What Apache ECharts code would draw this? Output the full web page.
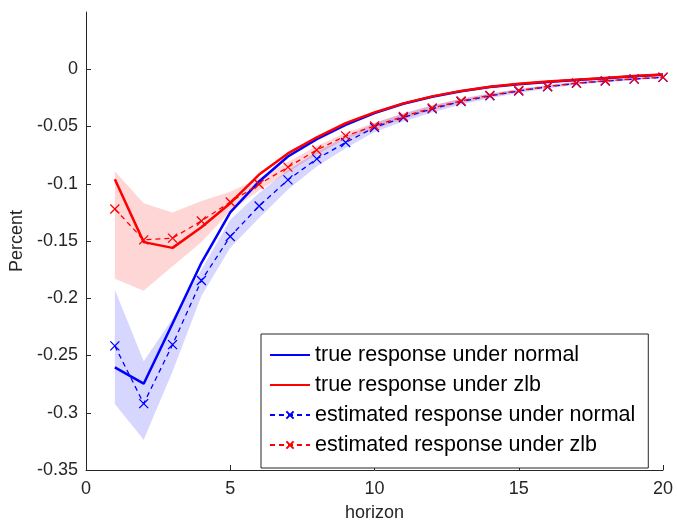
<!DOCTYPE html>
<html>
<head>
<meta charset="utf-8">
<script src="https://cdn.jsdelivr.net/npm/echarts@6/dist/echarts.min.js"></script>
<style>html,body{margin:0;padding:0;background:#fff;}#c{width:677px;height:527px;}</style>
</head>
<body>
<div id="c"></div>
<script>
var horizon = [1,2,3,4,5,6,7,8,9,10,11,12,13,14,15,16,17,18,19,20];
var trueNormal = [-0.2604,-0.2746,-0.222,-0.169,-0.125,-0.098,-0.0762,-0.061,-0.0485,-0.0382,-0.0301,-0.0240,-0.0192,-0.0155,-0.0130,-0.0111,-0.0094,-0.0078,-0.0062,-0.0047];
var trueZlb = [-0.096,-0.151,-0.156,-0.138,-0.117,-0.092,-0.0735,-0.0594,-0.047,-0.0377,-0.0298,-0.0237,-0.0189,-0.0152,-0.0127,-0.0108,-0.0092,-0.0076,-0.0060,-0.0045];
var estNormal = [-0.2416,-0.292,-0.2405,-0.1845,-0.146,-0.1195,-0.0966,-0.0783,-0.064,-0.0508,-0.0421,-0.0346,-0.0282,-0.0232,-0.0190,-0.0153,-0.0123,-0.0103,-0.0086,-0.0071];
var estZlb = [-0.122,-0.149,-0.1475,-0.1325,-0.116,-0.1004,-0.0855,-0.0705,-0.0582,-0.0496,-0.0412,-0.0338,-0.0277,-0.0228,-0.0186,-0.0150,-0.0121,-0.0101,-0.0084,-0.0069];
var bandNormalHi = [-0.1926,-0.255,-0.218,-0.175,-0.1315,-0.108,-0.088,-0.072,-0.059,-0.047,-0.0385,-0.0315,-0.0256,-0.0211,-0.0172,-0.0138,-0.0110,-0.0092,-0.0077,-0.0063];
var bandNormalLo = [-0.2924,-0.3235,-0.264,-0.198,-0.156,-0.130,-0.105,-0.085,-0.069,-0.0548,-0.0457,-0.0377,-0.0308,-0.0253,-0.0208,-0.0168,-0.0136,-0.0114,-0.0095,-0.0079];
var bandZlbHi = [-0.089,-0.117,-0.125,-0.115,-0.107,-0.095,-0.081,-0.067,-0.0555,-0.0468,-0.0388,-0.0317,-0.0260,-0.0214,-0.0174,-0.0140,-0.0113,-0.0094,-0.0078,-0.0064];
var bandZlbLo = [-0.183,-0.1935,-0.172,-0.151,-0.124,-0.106,-0.090,-0.0745,-0.061,-0.0524,-0.0436,-0.0359,-0.0294,-0.0242,-0.0198,-0.0160,-0.0129,-0.0108,-0.0090,-0.0074];
var xTicks = [0,5,10,15,20];
var yTicks = [-0.35,-0.3,-0.25,-0.2,-0.15,-0.1,-0.05,0];
var seriesNames = ['true response under normal','true response under zlb','estimated response under normal','estimated response under zlb'];

function pairs(ys){ return horizon.map(function(h,i){ return [h, ys[i]]; }); }

var FONT = '"Liberation Sans", Arial, Helvetica, sans-serif';
var AX = '#262626';
var crossPath = 'path://M0,0 L10,10 M10,0 L0,10';

function band(id, lo, hi, color){
  var data = horizon.map(function(h,i){ return [h, lo[i], hi[i]]; });
  return {
    type:'custom', name:id, data:data, silent:true, z:1, clip:true,
    encode:{x:0, y:[1,2]},
    renderItem:function(params, api){
      if (params.dataIndex !== 0) return null;
      var pts = [];
      for (var i = 0; i < data.length; i++) pts.push(api.coord([data[i][0], data[i][2]]));
      for (var j = data.length - 1; j >= 0; j--) pts.push(api.coord([data[j][0], data[j][1]]));
      return {type:'polygon', shape:{points:pts}, style:{fill:color, stroke:null}};
    }
  };
}

var chart = echarts.init(document.getElementById('c'), null, {renderer:'canvas'});
var option = {
  backgroundColor:'#ffffff',
  animation:false,
  grid:{left:83, right:14, top:12, bottom:56, containLabel:false},
  xAxis:{
    type:'value', min:0, max:20, interval:5,
    name:'horizon', nameLocation:'middle', nameGap:34,
    nameTextStyle:{fontFamily:FONT, fontSize:18, color:AX},
    axisLine:{show:true, onZero:false, lineStyle:{color:AX, width:1}},
    axisTick:{show:true, inside:true, length:5, lineStyle:{color:AX}, customValues:xTicks},
    axisLabel:{fontFamily:FONT, fontSize:18, color:AX, margin:10, customValues:xTicks},
    splitLine:{show:false}
  },
  yAxis:{
    type:'value', min:-0.35, max:0.05, interval:0.05,
    name:'Percent', nameLocation:'middle', nameGap:60, nameRotate:90,
    nameTextStyle:{fontFamily:FONT, fontSize:18, color:AX},
    axisLine:{show:true, onZero:false, lineStyle:{color:AX, width:1}},
    axisTick:{show:true, inside:true, length:5, lineStyle:{color:AX}, customValues:yTicks},
    axisLabel:{fontFamily:FONT, fontSize:18, color:AX, margin:8, customValues:yTicks,
      formatter:function(v){ return String(Math.round(v*100)/100); }},
    splitLine:{show:false}
  },
  legend:{
    data:[
      {name:seriesNames[0], itemStyle:{opacity:0}},
      {name:seriesNames[1], itemStyle:{opacity:0}},
      {name:seriesNames[2]},
      {name:seriesNames[3]}
    ],
    orient:'vertical', left:261, top:334,
    padding:[10,13,12,8],
    itemWidth:40, itemHeight:9, itemGap:8,
    backgroundColor:'#ffffff', borderColor:AX, borderWidth:1,
    selectedMode:false,
    textStyle:{fontFamily:FONT, fontSize:21.5, color:'#000', lineHeight:22}
  },
  series: [
    band('bn', bandNormalLo, bandNormalHi, 'rgba(0,0,255,0.16)'),
    band('bz', bandZlbLo, bandZlbHi, 'rgba(255,0,0,0.16)'),
    {type:'line', name:seriesNames[0], data:pairs(trueNormal), symbol:'none',
     lineStyle:{color:'#0000ff', width:2.5}, itemStyle:{color:'#0000ff'}, z:3},
    {type:'line', name:seriesNames[1], data:pairs(trueZlb), symbol:'none',
     lineStyle:{color:'#ff0000', width:2.5}, itemStyle:{color:'#ff0000'}, z:4},
    {type:'line', name:seriesNames[2], data:pairs(estNormal), symbol:crossPath, symbolSize:9,
     showSymbol:true,
     lineStyle:{color:'#0000ff', width:1.3, type:[5,4]},
     itemStyle:{color:'#0000ff', borderColor:'#0000ff', borderWidth:1.3}, z:5},
    {type:'line', name:seriesNames[3], data:pairs(estZlb), symbol:crossPath, symbolSize:9,
     showSymbol:true,
     lineStyle:{color:'#ff0000', width:1.3, type:[5,4]},
     itemStyle:{color:'#ff0000', borderColor:'#ff0000', borderWidth:1.3}, z:6}
  ]
};
chart.setOption(option);
</script>
</body>
</html>
